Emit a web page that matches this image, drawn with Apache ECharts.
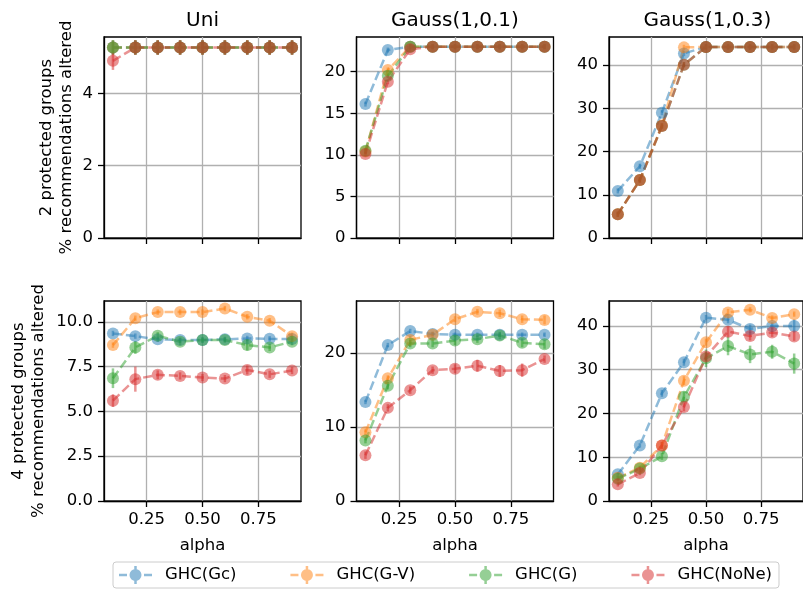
<!DOCTYPE html>
<html>
<head>
<meta charset="utf-8">
<script src="https://cdn.jsdelivr.net/npm/echarts@6/dist/echarts.min.js"></script>
<style>
html,body{margin:0;padding:0;background:#fff;}
#chart{width:803px;height:592px;}
</style>
</head>
<body>
<div id="chart"></div>
<script>
// ---------- data ----------
const alpha = [0.1, 0.2, 0.3, 0.4, 0.5, 0.6, 0.7, 0.8, 0.9];
const seriesNames = ['GHC(Gc)', 'GHC(G-V)', 'GHC(G)', 'GHC(NoNe)'];
const panelTitles = ['Uni', 'Gauss(1,0.1)', 'Gauss(1,0.3)'];
const rowLabels = ['2 protected groups\n% recommendations altered', '4 protected groups\n% recommendations altered'];
const xTicks = [0.25, 0.5, 0.75];

// 2 protected groups  (order: Gc, G-V, G, NoNe)
const uni2 = [
  [5.27, 5.27, 5.27, 5.27, 5.27, 5.27, 5.27, 5.27, 5.27],
  [5.27, 5.27, 5.27, 5.27, 5.27, 5.27, 5.27, 5.27, 5.27],
  [5.27, 5.27, 5.27, 5.27, 5.27, 5.27, 5.27, 5.27, 5.27],
  [4.90, 5.27, 5.27, 5.27, 5.27, 5.27, 5.27, 5.27, 5.27]
];
const uni2Err = [
  [0.2, 0.2, 0.2, 0.2, 0.2, 0.2, 0.2, 0.2, 0.2],
  [0.2, 0.2, 0.2, 0.2, 0.2, 0.2, 0.2, 0.2, 0.2],
  [0.2, 0.2, 0.2, 0.2, 0.2, 0.2, 0.2, 0.2, 0.2],
  [0.25, 0.2, 0.2, 0.2, 0.2, 0.2, 0.2, 0.2, 0.2]
];
const gaussA2 = [
  [16.1, 22.6, 23.0, 23.0, 23.0, 23.0, 23.0, 23.0, 23.0],
  [10.4, 20.2, 23.0, 23.0, 23.0, 23.0, 23.0, 23.0, 23.0],
  [10.5, 19.5, 23.0, 23.0, 23.0, 23.0, 23.0, 23.0, 23.0],
  [10.1, 18.8, 22.7, 23.0, 23.0, 23.0, 23.0, 23.0, 23.0]
];
const gaussA2Err = [
  [0.3, 0.3, 0.3, 0.3, 0.3, 0.3, 0.3, 0.3, 0.3],
  [0.3, 0.3, 0.3, 0.3, 0.3, 0.3, 0.3, 0.3, 0.3],
  [0.3, 0.3, 0.3, 0.3, 0.3, 0.3, 0.3, 0.3, 0.3],
  [0.3, 0.3, 0.3, 0.3, 0.3, 0.3, 0.3, 0.3, 0.3]
];
const gaussB2 = [
  [10.9, 16.6, 29.0, 42.7, 44.2, 44.2, 44.2, 44.2, 44.2],
  [5.5, 13.4, 26.0, 44.1, 44.2, 44.2, 44.2, 44.2, 44.2],
  [5.5, 13.4, 25.9, 40.1, 44.2, 44.2, 44.2, 44.2, 44.2],
  [5.5, 13.4, 25.9, 40.1, 44.2, 44.2, 44.2, 44.2, 44.2]
];
const gaussB2Err = [
  [0.6, 0.6, 0.6, 0.6, 0.6, 0.6, 0.6, 0.6, 0.6],
  [0.6, 0.6, 0.6, 0.6, 0.6, 0.6, 0.6, 0.6, 0.6],
  [0.6, 0.6, 0.6, 0.6, 0.6, 0.6, 0.6, 0.6, 0.6],
  [0.6, 0.6, 0.6, 0.6, 0.6, 0.6, 0.6, 0.6, 0.6]
];
// 4 protected groups
const uni4 = [
  [9.35, 9.2, 9.02, 8.98, 8.98, 9.02, 9.07, 9.05, 9.04],
  [8.7, 10.2, 10.54, 10.54, 10.54, 10.74, 10.28, 10.06, 9.2],
  [6.85, 8.57, 9.22, 8.89, 8.98, 8.98, 8.7, 8.57, 8.89],
  [5.6, 6.8, 7.04, 6.98, 6.89, 6.83, 7.31, 7.07, 7.28]
];
const uni4Err = [
  [0.15, 0.15, 0.15, 0.15, 0.15, 0.15, 0.15, 0.15, 0.15],
  [0.15, 0.15, 0.15, 0.15, 0.15, 0.15, 0.15, 0.15, 0.2],
  [0.55, 0.35, 0.2, 0.2, 0.15, 0.15, 0.3, 0.2, 0.2],
  [0.35, 0.7, 0.25, 0.2, 0.2, 0.2, 0.25, 0.2, 0.2]
];
const gaussA4 = [
  [13.4, 21.1, 23.0, 22.6, 22.5, 22.5, 22.5, 22.5, 22.5],
  [9.3, 16.6, 21.8, 22.5, 24.6, 25.6, 25.4, 24.6, 24.5],
  [8.2, 15.6, 21.3, 21.3, 21.7, 21.9, 22.4, 21.4, 21.2],
  [6.2, 12.6, 15.0, 17.7, 17.9, 18.3, 17.6, 17.7, 19.2]
];
const gaussA4Err = [
  [0.3, 0.3, 0.3, 0.3, 0.3, 0.3, 0.3, 0.3, 0.3],
  [0.4, 0.4, 0.5, 0.4, 0.4, 0.4, 0.5, 0.5, 0.6],
  [0.4, 0.5, 0.5, 0.5, 0.6, 0.5, 0.5, 0.6, 0.6],
  [0.5, 0.5, 0.5, 0.5, 0.6, 0.8, 0.8, 0.9, 0.5]
];
const gaussB4 = [
  [6.1, 12.7, 24.6, 31.7, 41.9, 41.4, 39.3, 40.0, 40.0],
  [5.3, 7.6, 12.7, 27.5, 36.3, 43.1, 43.7, 41.8, 42.7],
  [5.1, 7.4, 10.2, 23.8, 32.6, 35.4, 33.5, 34.1, 31.4],
  [3.8, 6.4, 12.7, 21.5, 33.0, 38.7, 37.7, 38.5, 37.6]
];
const gaussB4Err = [
  [0.5, 0.5, 0.8, 0.8, 0.6, 0.8, 1.0, 0.8, 1.5],
  [0.5, 0.5, 0.8, 1.0, 0.8, 0.8, 0.6, 0.6, 0.6],
  [0.6, 0.6, 0.8, 1.2, 2.0, 2.1, 2.0, 1.6, 2.3],
  [0.5, 0.5, 0.8, 1.0, 1.0, 1.2, 1.0, 1.0, 1.0]
];

const yTicksRow = [
  [[0, 2, 4], [0, 5, 10, 15, 20], [0, 10, 20, 30, 40]],
  [[0, 2.5, 5, 7.5, 10], [0, 10, 20], [0, 10, 20, 30, 40]]
];
const yMaxRow = [[5.56, 24.17, 46.5], [11.16, 27.06, 45.7]];

const panels = [
  [[uni2, uni2Err], [gaussA2, gaussA2Err], [gaussB2, gaussB2Err]],
  [[uni4, uni4Err], [gaussA4, gaussA4Err], [gaussB4, gaussB4Err]]
];

// ---------- style / layout ----------
const colors = ['#1f77b4', '#ff7f0e', '#2ca02c', '#d62728'];
const FONT = 'DejaVu Sans';
const gridLefts = [104, 356.5, 609];
const gridTops = [37, 301];
const gridHeights = [201, 200];
const gridWidth = 197;
// legend handle: dash, marker with error bar, dash
const legendIcon = 'path://M0 7.75H8V10.25H0Z M25 7.75H33V10.25H25Z M15.25 0H17.75V18H15.25Z M10.5 9A6 6 0 1 1 22.5 9A6 6 0 1 1 10.5 9Z';

const grids = [], xAxes = [], yAxes = [], series = [], graphics = [];

for (let r = 0; r < 2; r++) {
  for (let c = 0; c < 3; c++) {
    const idx = r * 3 + c;
    grids.push({
      left: gridLefts[c], top: gridTops[r], width: gridWidth, height: gridHeights[r],
      show: true, borderColor: '#000', borderWidth: 1.3, backgroundColor: 'transparent'
    });
    xAxes.push({
      type: 'value', gridIndex: idx, min: 0.06, max: 0.94,
      axisLine: { show: true, onZero: false, lineStyle: { color: '#000', width: 1.3 } },
      axisTick: { show: true, length: 6, customValues: xTicks, lineStyle: { color: '#000', width: 1.3 } },
      axisLabel: {
        show: r === 1, customValues: xTicks, margin: 10, color: '#000',
        fontFamily: FONT, fontSize: 16.5, formatter: v => v.toFixed(2)
      },
      splitLine: { show: true, lineStyle: { color: '#b0b0b0', width: 1.3 } },
      name: r === 1 ? 'alpha' : '', nameLocation: 'middle', nameGap: 36,
      nameTextStyle: { fontFamily: FONT, fontSize: 16.5, color: '#000' }
    });
    const yt = yTicksRow[r][c];
    const dec = (r === 1 && c === 0) ? 1 : 0;
    yAxes.push({
      type: 'value', gridIndex: idx, min: 0, max: yMaxRow[r][c], interval: yt[1] - yt[0],
      axisLine: { show: true, lineStyle: { color: '#000', width: 1.3 } },
      axisTick: { show: true, length: 6, customValues: yt, lineStyle: { color: '#000', width: 1.3 } },
      axisLabel: {
        customValues: yt, margin: 11, color: '#000', fontFamily: FONT, fontSize: 16.5,
        formatter: v => v.toFixed(dec)
      },
      splitLine: { show: true, lineStyle: { color: '#b0b0b0', width: 1.3 } },
      name: c === 0 ? rowLabels[r] : '', nameLocation: 'middle', nameRotate: 90,
      nameGap: r === 0 ? 27 : 55,
      nameTextStyle: { fontFamily: FONT, fontSize: 16.5, color: '#000', lineHeight: 20 }
    });
    const [vals, errs] = panels[r][c];
    for (let s = 0; s < 4; s++) {
      const col = colors[s];
      series.push({
        type: 'line', name: seriesNames[s], xAxisIndex: idx, yAxisIndex: idx,
        data: alpha.map((a, i) => [a, vals[s][i]]),
        symbol: 'circle', symbolSize: 12, showSymbol: true,
        lineStyle: { color: col, width: 2.5, type: [9, 4], opacity: 0.5 },
        itemStyle: { color: col, opacity: 0.5, borderWidth: 0 },
        emphasis: { disabled: true }, silent: true, z: 2
      });
      series.push({
        type: 'custom', name: 'err' + idx + '_' + s, xAxisIndex: idx, yAxisIndex: idx,
        data: alpha.map((a, i) => [a, vals[s][i], errs[s][i]]),
        encode: { x: 0, y: 1 }, silent: true, z: 2,
        renderItem: (params, api) => {
          const x = api.value(0), y = api.value(1), e = api.value(2);
          const p1 = api.coord([x, y - e]), p2 = api.coord([x, y + e]);
          return {
            type: 'line',
            shape: { x1: p1[0], y1: p1[1], x2: p2[0], y2: p2[1] },
            style: { stroke: col, lineWidth: 2.5, opacity: 0.5 }
          };
        }
      });
    }
  }
}

panelTitles.forEach((t, c) => {
  graphics.push({
    type: 'text', x: gridLefts[c] + gridWidth / 2, y: 21,
    style: { text: t, fill: '#000', font: '20px "DejaVu Sans"', textAlign: 'center', textVerticalAlign: 'middle' }
  });
});

const chart = echarts.init(document.getElementById('chart'), null, { renderer: 'canvas' });
chart.setOption({
  animation: false,
  backgroundColor: '#fff',
  grid: grids,
  xAxis: xAxes,
  yAxis: yAxes,
  series: series,
  graphic: graphics,
  legend: {
    data: seriesNames.map(n => ({ name: n, icon: legendIcon })),
    left: 113, top: 562, orient: 'horizontal',
    itemWidth: 33, itemHeight: 18, itemGap: 54,
    padding: [4, 7, 4, 6],
    borderColor: '#cccccc', borderWidth: 1, borderRadius: 3,
    backgroundColor: 'rgba(255,255,255,0.8)',
    itemStyle: { opacity: 0.5 },
    formatter: n => '{s|}' + n,
    textStyle: {
      fontFamily: FONT, fontSize: 16.5, color: '#000',
      rich: { s: { width: 8 } }
    },
    selectedMode: false
  }
});
</script>
</body>
</html>
